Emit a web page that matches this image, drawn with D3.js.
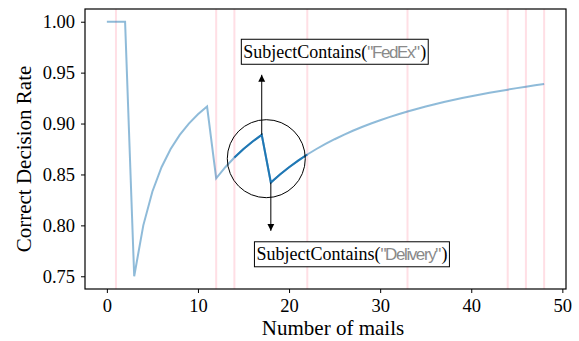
<!DOCTYPE html>
<html>
<head>
<meta charset="utf-8">
<script src="https://cdn.jsdelivr.net/npm/d3@7"></script>
<style>
  body { margin: 0; background: #fff; }
  text { font-family: "Liberation Serif", "Times New Roman", serif; }
</style>
</head>
<body>
<div id="chart"></div>
<script>
// number of mails seen (x) and correct decision rate
var mails = d3.range(0, 49);
var rate = [1.0, 1.0, 1.0, 0.75, 0.8, 0.8333, 0.8571, 0.875, 0.8889, 0.9, 0.9091, 0.9167,
  0.8462, 0.8571, 0.8667, 0.875, 0.8824, 0.8889, 0.8421, 0.85, 0.8571, 0.8636, 0.8696,
  0.875, 0.88, 0.8846, 0.8889, 0.8929, 0.8966, 0.9, 0.9032, 0.9063, 0.9091, 0.9118,
  0.9143, 0.9167, 0.9189, 0.9211, 0.9231, 0.925, 0.9268, 0.9286, 0.9302, 0.9318,
  0.9333, 0.9348, 0.9362, 0.9375, 0.9388];
var ruleChanges = [1, 12, 14, 22, 33, 44, 46, 48];
var highlightRange = [14, 22];
var xTicks = [0, 10, 20, 30, 40, 50];
var yTicks = [0.75, 0.80, 0.85, 0.90, 0.95, 1.00];
var upLabel = ["SubjectContains(", "\"FedEx\"", ")"];
var downLabel = ["SubjectContains(", "\"Delivery\"", ")"];

function init() {
  var w = 579, h = 341;
  var m = {left: 85, right: 13, top: 9, bottom: 52};

  var xScale = d3.scaleLinear().domain([-2.4, 50.4]).range([m.left, w - m.right]);
  var yScale = d3.scaleLinear().domain([0.7375, 1.0125]).range([h - m.bottom, m.top]);

  var svg = d3.select("#chart").append("svg")
    .attr("width", w).attr("height", h);

  var data = mails.map(function(d, i) { return {x: d, y: rate[i]}; });

  // pink rule-change markers
  svg.selectAll("line.rule")
    .data(ruleChanges)
    .enter().append("line")
    .attr("class", "rule")
    .attr("x1", function(d) { return xScale(d); })
    .attr("x2", function(d) { return xScale(d); })
    .attr("y1", yScale.range()[0])
    .attr("y2", yScale.range()[1])
    .attr("stroke", "#ffc0cb")
    .attr("stroke-opacity", 0.5)
    .attr("stroke-width", 2);

  var line = d3.line()
    .x(function(d) { return xScale(d.x); })
    .y(function(d) { return yScale(d.y); });

  svg.append("path")
    .datum(data)
    .attr("fill", "none")
    .attr("stroke", "#1f77b4")
    .attr("stroke-opacity", 0.5)
    .attr("stroke-width", 2)
    .attr("d", line);

  svg.append("path")
    .datum(data.filter(function(d) { return d.x >= highlightRange[0] && d.x <= highlightRange[1]; }))
    .attr("fill", "none")
    .attr("stroke", "#1f77b4")
    .attr("stroke-width", 2)
    .attr("d", line);

  // circle around the switch
  var peak = data[17], trough = data[18];
  var cx = (xScale(peak.x) + xScale(trough.x)) / 2;
  var cy = (yScale(peak.y) + yScale(trough.y)) / 2;
  svg.append("circle")
    .attr("cx", cx).attr("cy", cy).attr("r", 39)
    .attr("fill", "none").attr("stroke", "#000").attr("stroke-width", 1);

  // arrows
  var defs = svg.append("defs");
  defs.append("marker")
    .attr("id", "head")
    .attr("viewBox", "0 0 10 10")
    .attr("refX", 10).attr("refY", 5)
    .attr("markerWidth", 7).attr("markerHeight", 8)
    .attr("markerUnits", "userSpaceOnUse")
    .attr("orient", "auto")
    .append("path").attr("d", "M0,0L10,5L0,10z").attr("fill", "#000");

  svg.append("line")
    .attr("x1", xScale(peak.x)).attr("y1", yScale(peak.y))
    .attr("x2", xScale(peak.x)).attr("y2", yScale(0.9479))
    .attr("stroke", "#000").attr("stroke-width", 1)
    .attr("marker-end", "url(#head)");

  svg.append("line")
    .attr("x1", xScale(trough.x)).attr("y1", yScale(trough.y))
    .attr("x2", xScale(trough.x)).attr("y2", yScale(0.7946))
    .attr("stroke", "#000").attr("stroke-width", 1)
    .attr("marker-end", "url(#head)");

  function label(parts, x0, yc) {
    var g = svg.append("g");
    var t = g.append("text")
      .attr("x", xScale(x0) + 2)
      .attr("y", yScale(yc))
      .attr("dy", "0.33em")
      .attr("font-size", 18);
    t.append("tspan").text(parts[0]);
    t.append("tspan").text(parts[1])
      .attr("fill", "#8a8a8a")
      .style("font-family", "'Liberation Sans', Arial, sans-serif")
      .style("letter-spacing", "-1.4px")
      .attr("font-size", 17);
    t.append("tspan").text(parts[2]).attr("dx", 1.5);
    var bb = t.node().getBBox();
    g.insert("rect", "text")
      .attr("x", bb.x - 2).attr("y", yScale(yc) - 12.5)
      .attr("width", bb.width + 4).attr("height", 25)
      .attr("fill", "#fff").attr("stroke", "#000").attr("stroke-width", 1);
  }
  label(upLabel, 14.76, 0.9705);
  label(downLabel, 16.2, 0.7716);

  // axes
  var xAxis = d3.axisBottom(xScale).tickValues(xTicks).tickSize(4).tickPadding(6)
    .tickFormat(d3.format("d"));
  var yAxis = d3.axisLeft(yScale).tickValues(yTicks).tickSize(4).tickPadding(6)
    .tickFormat(d3.format(".2f"));

  var gx = svg.append("g")
    .attr("transform", "translate(0," + (h - m.bottom) + ")")
    .call(xAxis);
  var gy = svg.append("g")
    .attr("transform", "translate(" + m.left + ",0)")
    .call(yAxis);
  [gx, gy].forEach(function(g) {
    g.select(".domain").remove();
    g.selectAll("text").attr("font-size", 18.5).attr("fill", "#000")
      .style("font-family", "'Liberation Serif', serif");
    g.selectAll("line").attr("stroke", "#000");
  });

  svg.append("rect")
    .attr("x", m.left).attr("y", m.top)
    .attr("width", w - m.left - m.right).attr("height", h - m.top - m.bottom)
    .attr("fill", "none").attr("stroke", "#000").attr("stroke-width", 1.2);

  svg.append("text")
    .attr("x", 333).attr("y", 335)
    .attr("text-anchor", "middle").attr("font-size", 21)
    .text("Number of mails");

  svg.append("text")
    .attr("transform", "translate(31,159) rotate(-90)")
    .attr("text-anchor", "middle").attr("font-size", 21)
    .text("Correct Decision Rate");
}

window.onload = init;
</script>
</body>
</html>
